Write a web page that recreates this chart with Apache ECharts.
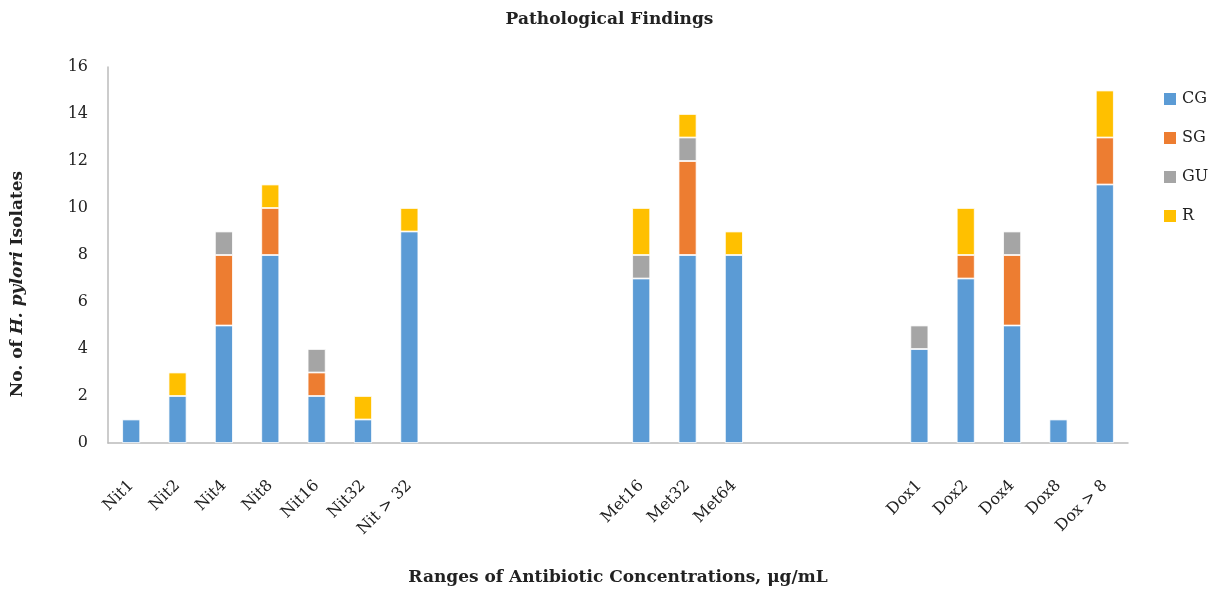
<!DOCTYPE html>
<html lang="en">
<head>
    <meta charset="UTF-8">
    <title>Pathological Findings</title>
    <script src="https://cdn.jsdelivr.net/npm/echarts@6/dist/echarts.min.js"></script>
    <style>
        html, body { margin: 0; padding: 0; background: #fff; }
        #container { width: 1219px; height: 591px; }
    </style>
</head>
<body>
<div id="container"></div>
<script>
    // categories ('' = empty gap slot)
    var categories = ['Nit1', 'Nit2', 'Nit4', 'Nit8', 'Nit16', 'Nit32', 'Nit > 32',
        '', '', '', '',
        'Met16', 'Met32', 'Met64',
        '', '', '',
        'Dox1', 'Dox2', 'Dox4', 'Dox8', 'Dox > 8'];

    var cg = [1, 2, 5, 8, 2, 1, 9, null, null, null, null, 7, 8, 8, null, null, null, 4, 7, 5, 1, 11];
    var sg = [null, null, 3, 2, 1, null, null, null, null, null, null, null, 4, null, null, null, null, null, 1, 3, null, 2];
    var gu = [null, null, 1, null, 1, null, null, null, null, null, null, 1, 1, null, null, null, null, 1, null, 1, null, null];
    var r = [null, 1, null, 1, null, 1, 1, null, null, null, null, 2, 1, 1, null, null, null, null, 2, null, null, 2];

    var serif = '"DejaVu Serif", "Liberation Serif", serif';

    function bar(name, data, color) {
        return {
            name: name,
            type: 'bar',
            stack: 'total',
            barWidth: 18,
            itemStyle: { color: color, borderColor: '#fff', borderWidth: 0.8 },
            data: data
        };
    }

    var chart = echarts.init(document.getElementById('container'));
    chart.setOption({
        animation: false,
        title: {
            text: 'Pathological Findings',
            left: 'center',
            top: 6,
            textStyle: { fontFamily: serif, fontSize: 17, fontWeight: 'bold', color: '#222' }
        },
        legend: {
            orient: 'vertical',
            left: 1157,
            top: 86,
            itemWidth: 14,
            itemHeight: 14,
            itemGap: 23,
            icon: 'rect',
            textStyle: { fontFamily: serif, fontSize: 16, color: '#222' }
        },
        grid: { left: 108, right: 91, top: 67, bottom: 145 },
        xAxis: {
            type: 'category',
            data: categories,
            axisLine: { lineStyle: { color: '#bbb', width: 1.5 } },
            axisTick: { show: false },
            axisLabel: {
                rotate: 45,
                interval: 0,
                margin: 40,
                fontFamily: serif,
                fontSize: 16,
                color: '#222'
            },
            name: 'Ranges of Antibiotic Concentrations, μg/mL',
            nameLocation: 'middle',
            nameGap: 126,
            nameTextStyle: { fontFamily: serif, fontSize: 17, fontWeight: 'bold', color: '#222' }
        },
        yAxis: {
            type: 'value',
            min: 0,
            max: 16,
            interval: 2,
            splitLine: { show: false },
            axisLine: { show: true, lineStyle: { color: '#bbb', width: 1.5 } },
            axisTick: { show: false },
            axisLabel: { fontFamily: serif, fontSize: 16, color: '#222', margin: 20 }
        },
        graphic: [{
            type: 'text',
            x: 18,
            y: 284,
            rotation: Math.PI / 2,
            style: {
                text: '{b|No. of }{i|H. pylori}{b| Isolates}',
                align: 'center',
                verticalAlign: 'middle',
                rich: {
                    b: { fontFamily: serif, fontSize: 17, fontWeight: 'bold', fill: '#222' },
                    i: { fontFamily: serif, fontSize: 17, fontWeight: 'bold', fontStyle: 'italic', fill: '#222' }
                }
            }
        }],
        series: [
            bar('CG', cg, '#5b9bd5'),
            bar('SG', sg, '#ed7d31'),
            bar('GU', gu, '#a5a5a5'),
            bar('R', r, '#ffc000')
        ]
    });
</script>
</body>
</html>
